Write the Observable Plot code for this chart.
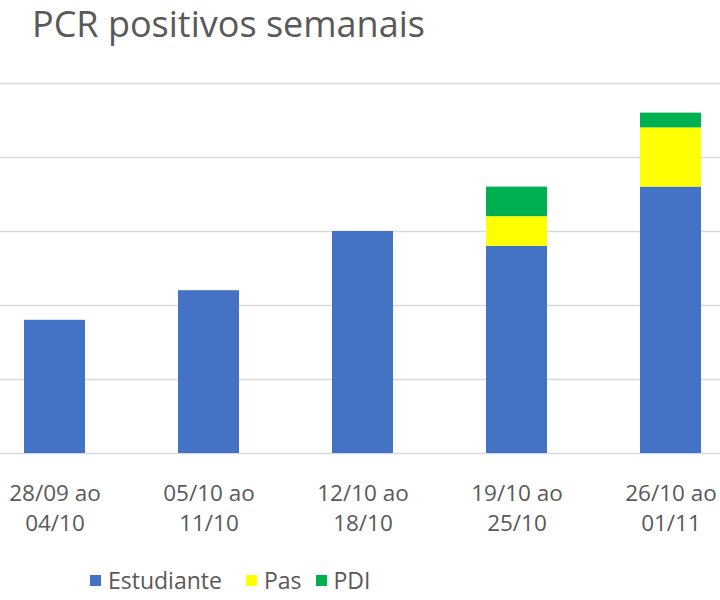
<!DOCTYPE html>
<html>
<head>
<meta charset="utf-8">
<script src="https://cdn.jsdelivr.net/npm/d3@7"></script>
<script src="https://cdn.jsdelivr.net/npm/@observablehq/plot@0.6"></script>
<style>
  body { margin: 0; background: #fff; width: 720px; height: 600px; overflow: hidden; font-family: "Open Sans", sans-serif; color: #595959; }
  #title { height: 60px; font-size: 36px; line-height: 48px; padding-left: 32px; white-space: nowrap; }
  #legend { height: 70px; display: flex; align-items: center; padding-left: 90px; font-size: 23px; }
  .item { display: flex; align-items: center; }
  .sw { width: 11px; height: 11px; margin-right: 7px; }
</style>
</head>
<body>
<div id="title">PCR positivos semanais</div>
<div id="chart"></div>
<div id="legend"></div>
<script>
const weeks = ["28/09 ao\n04/10", "05/10 ao\n11/10", "12/10 ao\n18/10", "19/10 ao\n25/10", "26/10 ao\n01/11"];
const series = ["Estudiante", "Pas", "PDI"];
const colors = ["#4472C4", "#FFFF00", "#00B050"];
const estudiante = [9, 11, 15, 14, 18];
const pas = [0, 0, 0, 2, 4];
const pdi = [0, 0, 0, 2, 1];
const yTicks = [0, 5, 10, 15, 20, 25];

const values = [estudiante, pas, pdi];
const data = [];
series.forEach((s, si) => weeks.forEach((w, wi) => data.push({week: w, series: s, value: values[si][wi]})));

const plot = Plot.plot({
  width: 720,
  height: 485,
  marginTop: 23,
  marginBottom: 92,
  marginLeft: 0,
  marginRight: 0,
  x: {domain: weeks, range: [-22.5, 747.5], paddingInner: 0.604, paddingOuter: 0.302, axis: null},
  y: {domain: [0, 25], axis: null},
  color: {domain: series, range: colors},
  style: {fontFamily: "Open Sans, sans-serif", background: "#fff"},
  marks: [
    Plot.ruleY(yTicks, {stroke: "#d9d9d9", strokeWidth: 1.5}),
    Plot.barY(data, {x: "week", y: "value", fill: "series", order: series}),
    Plot.text(weeks, {x: d => d, text: d => d, frameAnchor: "bottom", lineAnchor: "middle", dy: 53, fontSize: 22.5, lineHeight: 1.33, fill: "#595959"})
  ]
});
document.getElementById("chart").appendChild(plot);

const legend = document.getElementById("legend");
const gaps = [24, 14, 0];
series.forEach((s, i) => {
  const it = document.createElement("div");
  it.className = "item";
  it.style.marginRight = gaps[i] + "px";
  const sw = document.createElement("div");
  sw.className = "sw";
  sw.style.background = colors[i];
  const t = document.createElement("span");
  t.textContent = s;
  it.appendChild(sw); it.appendChild(t);
  legend.appendChild(it);
});
</script>
</body>
</html>
